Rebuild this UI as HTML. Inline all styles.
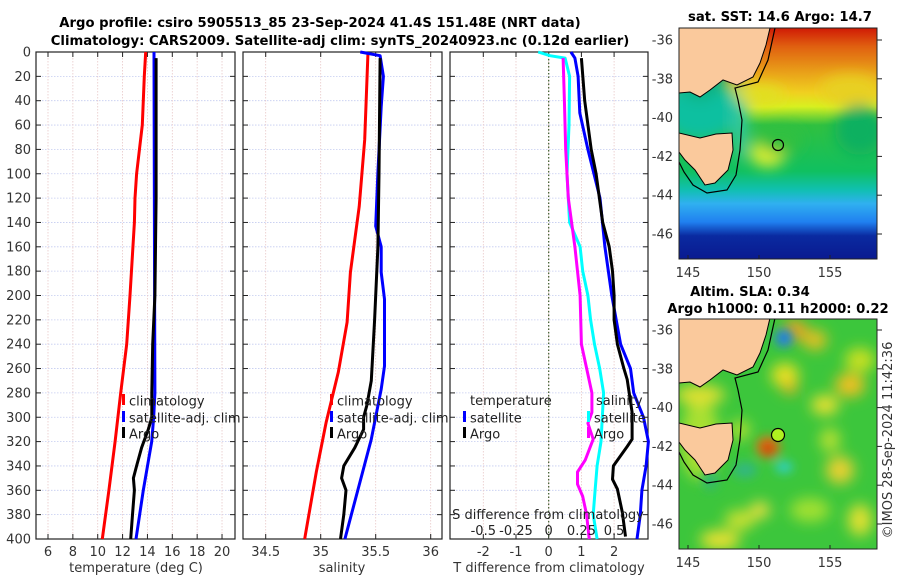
<!DOCTYPE html>
<html><head><meta charset="utf-8"><style>
html,body{margin:0;padding:0;background:#fff;}
svg{display:block;font-family:"DejaVu Sans","Liberation Sans",sans-serif;}
.tl{font-size:13px;fill:#333;}
.tt{font-size:13.2px;font-weight:bold;fill:#000;}
.lg{font-size:13px;fill:#222;}
</style></head><body>
<svg id="fig" width="900" height="580" viewBox="0 0 900 580" xmlns="http://www.w3.org/2000/svg">
<defs>
<filter id="bl" x="-20%" y="-20%" width="140%" height="140%"><feGaussianBlur stdDeviation="7"/></filter>
<filter id="bl2" x="-50%" y="-50%" width="200%" height="200%"><feGaussianBlur stdDeviation="5"/></filter>
<clipPath id="m1c"><rect x="679" y="28" width="198" height="231"/></clipPath>
<clipPath id="m2c"><rect x="679" y="319" width="198" height="230"/></clipPath>
<linearGradient id="sstg" x1="0" y1="0" x2="0" y2="1">
<stop offset="0" stop-color="#d01a05"/><stop offset="0.08" stop-color="#e06010"/><stop offset="0.18" stop-color="#e89a18"/>
<stop offset="0.28" stop-color="#f0d020"/><stop offset="0.34" stop-color="#d8f020"/><stop offset="0.42" stop-color="#30c040"/>
<stop offset="0.62" stop-color="#10c060"/><stop offset="0.7" stop-color="#10c0b0"/><stop offset="0.76" stop-color="#30b0f0"/>
<stop offset="0.84" stop-color="#2080f0"/><stop offset="0.9" stop-color="#0a2aa0"/><stop offset="1" stop-color="#0a1a90"/></linearGradient>
</defs>
<text class="tt" x="320" y="27" text-anchor="middle">Argo profile: csiro 5905513_85 23-Sep-2024 41.4S 151.48E (NRT data)</text>
<text class="tt" x="340" y="45" text-anchor="middle">Climatology: CARS2009. Satellite-adj clim: synTS_20240923.nc (0.12d earlier)</text>
<g id="p1"></g>
<g id="p2"></g>
<g id="p3"></g>
<g id="m1"></g>
<g id="m2"></g>
<text class="tl" x="0" y="0" transform="translate(892,440) rotate(-90)" text-anchor="middle">©IMOS 28-Sep-2024 11:42:36</text>
</svg>
<script>
// ---- data ----
const depthTicks = [0,20,40,60,80,100,120,140,160,180,200,220,240,260,280,300,320,340,360,380,400];
const tempTicks = [6,8,10,12,14,16,18,20];
const salTicks = [34.5,35,35.5,36];
const tdiffTicks = [-2,-1,0,1,2];
const sdiffTicks = [-0.5,-0.25,0,0.25,0.5];
const sdiffLabels = ["-0.5","-0.25","0","0.25","0.5"];

const climTDepth = [0,20,60,100,120,140,200,240,280,320,360,400];
const climTVal = [13.86,13.75,13.59,13.13,13.0,12.95,12.6,12.33,11.85,11.4,10.9,10.37];
const satTDepth = [0,100,200,280,300,320,360,400];
const satTVal = [14.53,14.55,14.58,14.6,14.5,14.34,13.67,13.08];
const argoTDepth = [5,120,200,240,280,300,310,325,340,350,360,380,400];
const argoTVal = [14.7,14.7,14.6,14.42,14.35,14.35,14.07,13.53,13.13,12.87,12.95,12.8,12.65];

const climSDepth = [0,72,127,181,222,263,304,345,397,400];
const climSVal = [35.43,35.40,35.35,35.27,35.24,35.16,35.05,34.96,34.86,34.855];
const satSDepth = [0,3,20,45,99,143,160,181,203,258,277,318,359,400];
const satSVal = [35.36,35.54,35.57,35.55,35.52,35.50,35.55,35.55,35.58,35.58,35.55,35.46,35.34,35.22];
const argoSDepth = [5,100,160,220,270,290,300,310,325,340,350,360,380,400];
const argoSVal = [35.54,35.53,35.52,35.49,35.46,35.42,35.39,35.39,35.31,35.21,35.19,35.23,35.21,35.18];

const satTdDepth = [0,5,20,50,80,120,160,200,240,260,280,300,320,340,360,380,400];
const satTdVal = [0.68,0.8,0.9,0.95,1.2,1.57,1.72,1.93,2.2,2.5,2.6,2.9,3.05,2.98,2.85,2.8,2.7];
const argoTdDepth = [5,40,80,100,140,160,180,200,220,240,260,269,296,318,324,340,351,359,378,398];
const argoTdVal = [1.0,1.1,1.3,1.45,1.65,1.85,1.95,2.0,2.0,2.1,2.3,2.4,2.55,2.55,2.4,1.98,1.95,2.1,2.25,2.35];
const satSdDepth = [0,3,5,20,60,100,140,160,180,200,220,240,260,280,300,320,340,360,380,400];
const satSdVal = [-0.08,0.01,0.125,0.16,0.155,0.14,0.16,0.24,0.26,0.30,0.32,0.35,0.39,0.42,0.41,0.40,0.37,0.355,0.34,0.37];
const argoSdDepth = [5,40,80,120,160,200,240,280,296,305,318,335,345,355,365,380,400];
const argoSdVal = [0.11,0.12,0.13,0.15,0.2,0.24,0.25,0.33,0.33,0.30,0.34,0.28,0.22,0.22,0.26,0.29,0.31];

// ---- helpers ----
const NS = "http://www.w3.org/2000/svg";
function mk(parent, tag, attrs, txt){
  const e = document.createElementNS(NS, tag);
  for (const k in attrs) e.setAttribute(k, attrs[k]);
  if (txt !== undefined) e.textContent = txt;
  parent.appendChild(e);
  return e;
}
const Y0 = 52, Y1 = 539;
const yD = d => Y0 + d/400*(Y1-Y0);

function panel(g, L, R, xs, ticks, labels, leftLabels){
  for (const d of depthTicks){
    if (d>0 && d<400){ const l = mk(g,'line',{x1:L,x2:R,y1:yD(d),y2:yD(d),stroke:'#c4cbf0','stroke-width':0.8,'stroke-dasharray':'1.5 1.5'});
        }
    const t1 = mk(g,'line',{x1:L,x2:L+5,y1:yD(d),y2:yD(d),stroke:'#222'});
     
    const t2 = mk(g,'line',{x1:R-5,x2:R,y1:yD(d),y2:yD(d),stroke:'#222'});
     
    if (leftLabels){ const tx = mk(g,'text',{x:L-5,y:yD(d)+4.5,'text-anchor':'end','class':'tl'},String(d));
        }
  }
  ticks.forEach((v,i)=>{
    const x = xs(v);
    const l = mk(g,'line',{x1:x,x2:x,y1:Y0,y2:Y1,stroke:'#e8c8c8','stroke-width':0.8,'stroke-dasharray':'1.5 1.5'});
     
    const t = mk(g,'line',{x1:x,x2:x,y1:Y1-5,y2:Y1,stroke:'#222'});
     
    const t2 = mk(g,'line',{x1:x,x2:x,y1:Y0,y2:Y0+5,stroke:'#222'});
     
    if (labels){ const tx = mk(g,'text',{x:x,y:556,'text-anchor':'middle','class':'tl'},labels[i]);
        }
  });
  const fr = mk(g,'rect',{x:L,y:Y0,width:R-L,height:Y1-Y0,fill:'none',stroke:'#222','stroke-width':1.2});
   
}
function series(g, xs, depths, vals, color, name, w){
  const pts = depths.map((d,i)=>xs(vals[i]).toFixed(1)+','+yD(d).toFixed(1)).join(' ');
  const p = mk(g,'polyline',{points:pts,fill:'none',stroke:color,'stroke-width':w||3,'stroke-linejoin':'round'});
  
  
}
function legendEntry(g, x, y, color, label, name){
  const m = mk(g,'rect',{x:x,y:y-7,width:3,height:11,fill:color});
   
  const t = mk(g,'text',{x:x+7,y:y+4.5,'class':'lg'},label);
   
}

// ---- panel 1: temperature ----
const p1 = document.getElementById('p1');
const xT = v => 48 + (v-6)*12.43;
panel(p1, 36, 235, xT, tempTicks, tempTicks.map(String), true);
series(p1, xT, climTDepth, climTVal, '#ff0000', 'climatology-temp-line');
series(p1, xT, satTDepth, satTVal, '#0000ff', 'satellite-temp-line');
series(p1, xT, argoTDepth, argoTVal, '#000000', 'argo-temp-line');
legendEntry(p1,122,401,'#ff0000','climatology','legend-climatology');
legendEntry(p1,122,418,'#0000ff','satellite-adj. clim','legend-satellite');
legendEntry(p1,122,434,'#000000','Argo','legend-argo');
let ax = mk(p1,'text',{x:136,y:572,'text-anchor':'middle','class':'tl','font-size':'14'},'temperature (deg C)');
 

// ---- panel 2: salinity ----
const p2 = document.getElementById('p2');
const xS = v => 265.7 + (v-34.5)*110;
panel(p2, 243, 442, xS, salTicks, salTicks.map(String), false);
series(p2, xS, climSDepth, climSVal, '#ff0000', 'climatology-salinity-line');
series(p2, xS, satSDepth, satSVal, '#0000ff', 'satellite-salinity-line');
series(p2, xS, argoSDepth, argoSVal, '#000000', 'argo-salinity-line');
legendEntry(p2,330,401,'#ff0000','climatology','legend-climatology');
legendEntry(p2,330,418,'#0000ff','satellite-adj. clim','legend-satellite');
legendEntry(p2,330,434,'#000000','Argo','legend-argo');
ax = mk(p2,'text',{x:342,y:572,'text-anchor':'middle','class':'tl','font-size':'14'},'salinity');
 

// ---- panel 3: differences ----
const p3 = document.getElementById('p3');
const xTd = v => 548.7 + v*32.7;
const xSd = v => 548.7 + v*130.8;
panel(p3, 450, 648, xTd, tdiffTicks, tdiffTicks.map(String), false);
const zl = mk(p3,'line',{x1:xTd(0),x2:xTd(0),y1:Y0,y2:Y1,stroke:'#3a5a2a','stroke-width':1.2,'stroke-dasharray':'1.5 2'});
 
series(p3, xTd, satTdDepth, satTdVal, '#0000ff', 'satellite-tdiff-line');
series(p3, xTd, argoTdDepth, argoTdVal, '#000000', 'argo-tdiff-line');
series(p3, xSd, satSdDepth, satSdVal, '#00ffff', 'satellite-sdiff-line');
series(p3, xSd, argoSdDepth, argoSdVal, '#ff00ff', 'argo-sdiff-line');
let t3 = mk(p3,'text',{x:470,y:405,'class':'lg'},'temperature');
 
t3 = mk(p3,'text',{x:596,y:405,'class':'lg'},'salinity');
 
legendEntry(p3,463,418,'#0000ff','satellite','legend-temp-satellite');
legendEntry(p3,463,434,'#000000','Argo','legend-temp-argo');
legendEntry(p3,587,418,'#00ffff','satellite','legend-sal-satellite');
legendEntry(p3,587,434,'#ff00ff','Argo','legend-sal-argo');
t3 = mk(p3,'text',{x:548,y:519,'text-anchor':'middle','class':'lg','font-size':'14'},'S difference from climatology');
 
sdiffTicks.forEach((v,i)=>{
  const tx = mk(p3,'text',{x:xSd(v),y:535,'text-anchor':'middle','class':'lg'},sdiffLabels[i]);
   
});
ax = mk(p3,'text',{x:549,y:572,'text-anchor':'middle','class':'tl','font-size':'14'},'T difference from climatology');
 

// ---- maps ----
const mapLonTicks = [145,150,155];
const mapLatTicks = [-36,-38,-40,-42,-44,-46];
function mapFrame(g, top, bottom, lat36, lat46){
  const lx = lon => 688 + (lon-145)*14.2;
  const ly = lat => lat36 + (lat+36)/(-10)*(lat46-lat36);
  mapLonTicks.forEach(l=>{
    const t = mk(g,'text',{x:lx(l),y:bottom+18,'text-anchor':'middle','class':'tl'},String(l));
     
    const k = mk(g,'line',{x1:lx(l),x2:lx(l),y1:bottom,y2:bottom-4,stroke:'#222'});
     
  });
  mapLatTicks.forEach(l=>{
    const t = mk(g,'text',{x:673,y:ly(l)+4.5,'text-anchor':'end','class':'tl'},String(l));
     
    const k = mk(g,'line',{x1:877,x2:882,y1:ly(l),y2:ly(l),stroke:'#222'});
     
  });
  const f = mk(g,'rect',{x:679,y:top,width:198,height:bottom-top,fill:'none',stroke:'#222','stroke-width':1});
   
}
function land(g, dy){
  const main = mk(g,'polygon',{points:[[679,28],[770,28],[766,45],[760,63],[753,77],[737,85],[723,80],[710,90],[700,97],[690,92],[679,93]].map(p=>p[0]+','+(p[1]+dy)).join(' '),fill:'#fac99c',stroke:'#000','stroke-width':1});
   
  const tas = mk(g,'polygon',{points:[[679,133],[700,138],[716,134],[732,133],[733,150],[728,170],[715,183],[705,185],[695,170],[685,160],[679,152]].map(p=>p[0]+','+(p[1]+dy)).join(' '),fill:'#fac99c',stroke:'#000','stroke-width':1});
   
  const c = mk(g,'polyline',{points:[[775,28],[768,60],[758,82],[735,88],[738,100],[742,120],[740,150],[736,175],[727,190],[707,193],[693,185],[684,172],[679,162]].map(p=>p[0]+','+(p[1]+dy)).join(' '),fill:'none',stroke:'#000','stroke-width':1.2});
   
}
// map 1
const m1 = document.getElementById('m1');
let ti = mk(m1,'text',{x:780,y:21,'text-anchor':'middle','class':'tt'},'sat. SST: 14.6 Argo: 14.7');
 
const c1 = mk(m1,'g',{'clip-path':'url(#m1c)'});
let r = mk(c1,'rect',{x:679,y:28,width:198,height:231,fill:'url(#sstg)'});
 
const blobs1 = [[700,110,40,30,'#10c0a0'],[700,60,30,40,'#10b080'],[768,153,18,14,'#e0f030'],[780,140,22,14,'#30c040'],[860,130,25,25,'#10b060'],[740,120,8,40,'#30c8a0'],[850,90,30,15,'#e8d020'],[760,95,25,10,'#e0e020']];
const bg1 = mk(c1,'g',{filter:'url(#bl)'});
blobs1.forEach(b=>{ const e = mk(bg1,'ellipse',{cx:b[0],cy:b[1],rx:b[2],ry:b[3],fill:b[4]});
    });
land(c1, 0);
r = mk(m1,'circle',{cx:778,cy:145,r:5.5,fill:'none',stroke:'#000','stroke-width':1.2});
 
mapFrame(m1, 28, 259, 40, 234);
// map 2
const m2 = document.getElementById('m2');
ti = mk(m2,'text',{x:750,y:296,'text-anchor':'middle','class':'tt'},'Altim. SLA: 0.34');
 
ti = mk(m2,'text',{x:778,y:313,'text-anchor':'middle','class':'tt'},'Argo h1000: 0.11 h2000: 0.22');
 
const c2 = mk(m2,'g',{'clip-path':'url(#m2c)'});
r = mk(c2,'rect',{x:679,y:319,width:198,height:230,fill:'#3cc63c'});
 
const blobs2 = [[795,330,12,10,'#f0a020'],[815,340,12,10,'#e8c020'],[785,375,14,12,'#e8e020'],[790,388,8,6,'#f0b020'],[850,385,15,12,'#f0c020'],[825,405,14,10,'#e8e030'],[860,360,15,12,'#c8e020'],[700,440,20,40,'#a8e030'],[840,470,14,14,'#e8d030'],[720,540,20,10,'#e8e030'],[740,520,15,10,'#c8e030'],[860,520,12,16,'#e0e030'],[810,510,20,12,'#a0e030'],[740,430,10,10,'#b0e030'],[760,510,10,8,'#f0e040'],[690,330,10,40,'#c0e030'],[700,395,25,10,'#e0e030'],[830,440,10,12,'#b8e030']];
const bg2 = mk(c2,'g',{filter:'url(#bl)'});
blobs2.forEach(b=>{ const e = mk(bg2,'ellipse',{cx:b[0],cy:b[1],rx:b[2],ry:b[3],fill:b[4]});
    });
const bg3 = mk(c2,'g',{filter:'url(#bl2)'});
[[784,338,9,9,'#2080e0'],[768,447,12,11,'#e07018'],[768,449,5,5,'#c02010'],[784,467,9,6,'#30d0c0'],[745,470,12,8,'#30b880'],[710,480,8,10,'#30b870']].forEach(b=>{
  const e = mk(bg3,'ellipse',{cx:b[0],cy:b[1],rx:b[2],ry:b[3],fill:b[4]});
    });
land(c2, 290);
r = mk(m2,'circle',{cx:778,cy:435,r:6.5,fill:'#b0f020',stroke:'#000','stroke-width':1.2});
 
mapFrame(m2, 319, 549, 330, 524);
</script>
</body></html>
